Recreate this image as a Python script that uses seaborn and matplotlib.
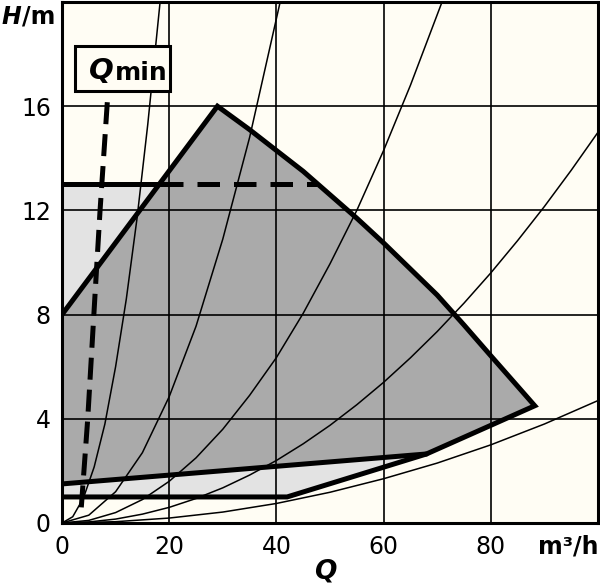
import numpy as np
import pandas as pd
import matplotlib.pyplot as plt
import seaborn as sns
from matplotlib.patches import Rectangle

# pump curve: max speed
q_max = [29.0, 35.0, 40.0, 45.0, 50.0, 55.0, 60.0, 65.0, 70.0, 75.0, 80.0, 85.0, 88.2]
h_max = [16.0, 15.1, 14.3, 13.5, 12.6, 11.7, 10.75, 9.75, 8.75, 7.6, 6.42, 5.25, 4.5]

# upper limit of the min curve, lower limit of the range
q_low_upper = [0.0, 68.0]
h_low_upper = [1.5, 2.65]
q_low = [0.0, 42.0, 68.0]
h_low = [1.0, 1.0, 2.65]

# left diagonal edge
q_diag = [0.0, 29.0]
h_diag = [8.0, 16.0]

# 13 m line (solid / dashed part)
q_line13 = [0.0, 18.8, 47.6]
h_line13 = 13.0

# Qmin line
q_qmin = [3.6, 4.8, 6.2, 7.1, 8.6]
h_qmin = [0.6, 4.0, 8.9, 12.0, 16.6]

# system curves
curves = {
    "a": ([0, 2, 4, 6, 8, 10, 12, 14, 16, 18.3],
          [0, 0.24, 0.96, 2.15, 3.8, 6.0, 8.6, 11.7, 15.3, 20.0]),
    "b": ([0, 5, 10, 15, 20, 25, 30, 35, 40.7],
          [0, 0.3, 1.2, 2.7, 4.85, 7.55, 10.9, 14.8, 20.0]),
    "c": ([0, 5, 10, 15, 20, 25, 30, 35, 40, 45, 50, 55, 60, 65, 70.9],
          [0, 0.1, 0.4, 0.9, 1.6, 2.5, 3.6, 4.9, 6.35, 8.05, 9.95, 12.0, 14.3, 16.8, 20.0]),
    "d": ([0, 5, 10, 15, 20, 25, 30, 35, 40, 45, 50, 55, 60, 65, 70, 75, 80, 85, 90, 95, 100],
          [0, 0.04, 0.15, 0.34, 0.6, 0.94, 1.35, 1.84, 2.4, 3.04, 3.75, 4.54, 5.4, 6.34,
           7.35, 8.44, 9.6, 10.84, 12.15, 13.54, 15.0]),
    "e": ([0, 10, 20, 30, 40, 50, 60, 70, 80, 90, 100],
          [0, 0.05, 0.19, 0.42, 0.75, 1.18, 1.7, 2.3, 3.0, 3.8, 4.7]),
}

x_ticks = [0, 20, 40, 60, 80, 100]
x_labels = ["0", "20", "40", "60", "80", ""]
y_ticks = [0, 4, 8, 12, 16, 20]
y_labels = ["0", "4", "8", "12", "16", ""]

sns.set_theme(style="white", rc={"text.color": "black", "xtick.color": "black",
                                 "ytick.color": "black", "axes.labelcolor": "black"})
plt.rcParams["font.family"] = ["DejaVu Sans"]

bg = "#fffdf4"
dark = "#aaaaaa"
light = "#e3e3e3"

fig = plt.figure(figsize=(6, 5.86), dpi=100)
fig.patch.set_facecolor("white")
ax = fig.add_axes([62 / 600, 1 - 523 / 586, 536 / 600, 521 / 586])
ax.set_facecolor(bg)

# light grey area
under13 = [(q, h) for q, h in zip(q_max[::-1], h_max[::-1]) if h <= 13]
light_q = q_low + [q for q, _ in under13] + [q_line13[-1], 0.0]
light_h = h_low + [h for _, h in under13] + [h_line13, h_line13]
ax.fill(light_q, light_h, color=light, zorder=0.6, lw=0)

# dark grey area
dark_q = q_diag + q_max[1:] + q_low_upper[::-1]
dark_h = h_diag + h_max[1:] + h_low_upper[::-1]
ax.fill(dark_q, dark_h, color=dark, zorder=0.7, lw=0)

# system curves
rows = []
for name, (qs, hs) in curves.items():
    for q, h in zip(qs, hs):
        rows.append({"curve": name, "Q": q, "H": h})
df = pd.DataFrame(rows)
sns.lineplot(data=df, x="Q", y="H", units="curve", estimator=None, sort=False,
             color="black", lw=1.1, ax=ax, zorder=2)

# thick outlines
thick = 3.6
ax.plot(dark_q, dark_h, color="black", lw=thick, solid_joinstyle="miter", zorder=3)
ax.plot(q_low, h_low, color="black", lw=thick, solid_joinstyle="miter", zorder=3)
ax.plot(q_line13[:2], [h_line13] * 2, color="black", lw=thick, zorder=3)
ax.plot(q_line13[1:], [h_line13] * 2, color="black", lw=thick,
        linestyle=(0.5, (4.5, 2.8)), zorder=3)
ax.plot(q_qmin, h_qmin, color="black", lw=thick, linestyle=(0, (4.4, 2.0)), zorder=3)

# Qmin label box
ax.add_patch(Rectangle((2.4, 16.6), 17.7, 1.7, facecolor=bg, edgecolor="black",
                       lw=2.2, zorder=5))
tq = ax.text(5.0, 17.05, "Q", fontsize=21, weight="bold", style="italic",
             ha="left", va="baseline", zorder=6)
ax.annotate("min", xy=(1.05, 0.0), xycoords=tq, fontsize=18, weight="bold",
            ha="left", va="bottom", zorder=6)

ax.set_xlim(0, 100)
ax.set_ylim(0, 20)
ax.set_xticks(x_ticks, x_labels)
ax.set_yticks(y_ticks, y_labels)
ax.tick_params(length=0, labelsize=17, labelcolor="black")
ax.tick_params(axis="x", pad=9)
ax.tick_params(axis="y", pad=8)
ax.set_xlabel("")
ax.set_ylabel("")
ax.grid(True, color="black", lw=1.2)
ax.set_axisbelow(False)
for s in ax.spines.values():
    s.set_color("black")
    s.set_linewidth(2.2)
    s.set_zorder(7)

# axis titles
ax.text(100, -0.92, "m³/h", fontsize=17, weight="bold", ha="right", va="center",
        clip_on=False)
ax.text(49.1, -1.85, "Q", fontsize=19, weight="bold", style="italic",
        ha="center", va="center", clip_on=False)
th = fig.text(0.003, 1 - 17 / 586, "H", fontsize=17, weight="bold", style="italic",
              ha="left", va="center")
ax.annotate("/m", xy=(1.0, 0.0), xycoords=th, fontsize=17, weight="bold",
            ha="left", va="bottom")

fig.savefig("out.png", dpi=100)
